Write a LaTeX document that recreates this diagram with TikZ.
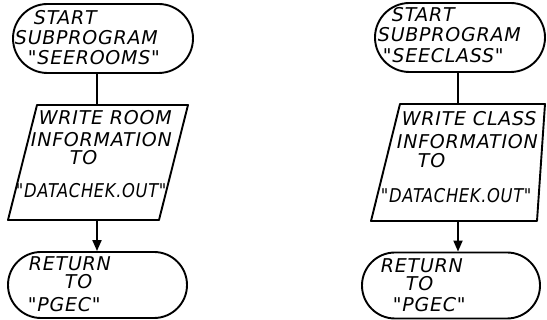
\documentclass[tikz,border=0pt]{standalone}
\usepackage{fontspec}
\setmainfont{DejaVu Sans}
\newfontfamily\hand{DejaVu Sans}[LetterSpace=4]
\usetikzlibrary{shapes.misc, arrows.meta}
\newcommand{\squeeze}[2]{\scalebox{#1}[1]{#2}}
\begin{document}
\begin{tikzpicture}[x=1pt, y=-1pt, line width=1.9pt, line join=round,
  term/.style={draw, rounded rectangle, inner sep=0pt},
  hw/.style={font=\hand\itshape\fontsize{19}{21}\selectfont, anchor=base west, inner sep=0pt},
  flow/.style={line width=1.9pt},
  arr/.style={-{Triangle[length=11pt,width=9pt]}}]
\useasboundingbox (0,0) rectangle (547,320);

% ---------------- left column ----------------
\node[term, minimum width=180pt, minimum height=69pt] (s1) at (103,38.5) {};
\node[hw] (s1a) at (33,25) {START};
\node[hw] (s1b) at (14,45) {SUBPROGRAM};
\node[hw] (s1c) at (27,65) {"SEEROOMS"};

\coordinate (p1tl) at (37,105);
\coordinate (p1tr) at (188,105);
\coordinate (p1br) at (159,220);
\coordinate (p1bl) at (8,220);
\draw (p1tl) -- (p1tr) -- (p1br) -- (p1bl) -- cycle;
\coordinate (p1top) at (97,105);
\coordinate (p1bot) at (97,220);
\node[hw] (p1a) at (38,125) {WRITE ROOM};
\node[hw] (p1b) at (30,147) {INFORMATION};
\node[hw] (p1c) at (69,165) {TO};
\node[hw] (p1d) at (15,198) {\squeeze{0.86}{"DATACHEK.OUT"}};

\node[term, minimum width=179pt, minimum height=66pt] (r1) at (97.5,285) {};
\node[hw] (r1a) at (28,271) {RETURN};
\node[hw] (r1b) at (64,289) {TO};
\node[hw] (r1c) at (27,312) {"PGEC"};

\draw[flow] (s1.south -| p1top) -- (p1top);
\draw[flow, arr] (p1bot) -- (r1.north -| p1bot);

% ---------------- right column ----------------
\node[term, minimum width=170pt, minimum height=69pt] (s2) at (460,37.5) {};
\node[hw] (s2a) at (391,22) {START};
\node[hw] (s2b) at (377,42) {SUBPROGRAM};
\node[hw] (s2c) at (382,63) {"SEECLASS"};

\coordinate (p2tl) at (400,104);
\coordinate (p2tr) at (545,104);
\coordinate (p2br) at (537,221);
\coordinate (p2bl) at (371,221);
\draw (p2tl) -- (p2tr) -- (p2br) -- (p2bl) -- cycle;
\coordinate (p2top) at (458,104);
\coordinate (p2bot) at (458,221);
\node[hw] (p2a) at (401,126) {WRITE CLASS};
\node[hw] (p2b) at (396,149) {INFORMATION};
\node[hw] (p2c) at (417,168) {TO};
\node[hw] (p2d) at (380,203) {\squeeze{0.86}{"DATACHEK.OUT"}};

\node[term, minimum width=178pt, minimum height=66pt] (r2) at (451,285.5) {};
\node[hw] (r2a) at (380,273) {RETURN};
\node[hw] (r2b) at (405,291) {TO};
\node[hw] (r2c) at (392,312) {"PGEC"};

\draw[flow] (s2.south -| p2top) -- (p2top);
\draw[flow, arr] (p2bot) -- (r2.north -| p2bot);
\end{tikzpicture}
\end{document}
